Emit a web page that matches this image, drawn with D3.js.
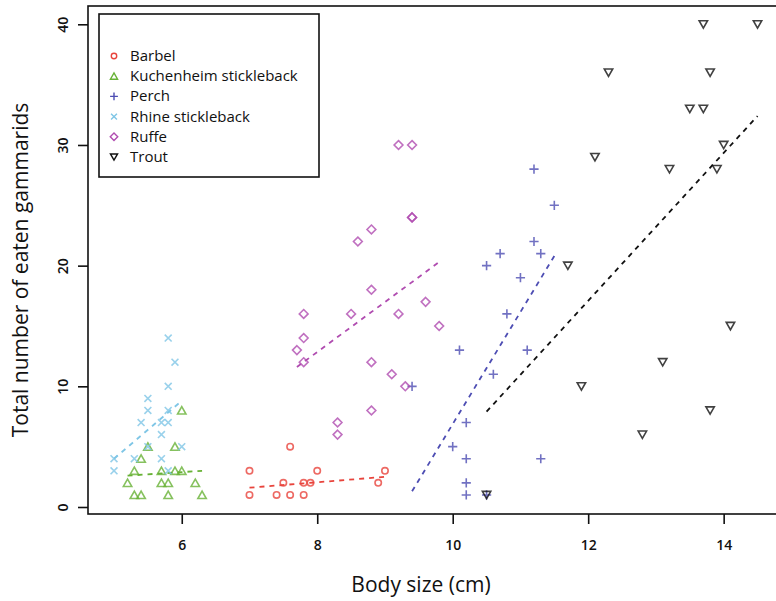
<!DOCTYPE html>
<html>
<head>
<meta charset="utf-8">
<script src="https://cdn.jsdelivr.net/npm/d3@7"></script>
<style>
  body { margin: 0; background: #fff; }
  text { font-family: "Open Sans", "Noto Sans", sans-serif; }
</style>
</head>
<body>
<div id="chart"></div>
<script>
// [body size (cm), eaten gammarids]
const barbel = [[7, 3], [7, 1], [7.4, 1], [7.5, 2], [7.6, 5], [7.6, 1], [7.8, 2], [7.8, 1],
  [7.9, 2], [8, 3], [8.9, 2], [9, 3]];
const kuchenheim = [[6, 8], [5.5, 5], [5.9, 5], [5.4, 4], [5.3, 3], [5.7, 3], [5.9, 3], [6, 3],
  [5.2, 2], [5.7, 2], [5.8, 2], [6.2, 2], [5.3, 1], [5.4, 1], [5.8, 1], [6.3, 1]];
const perch = [[11.2, 28], [11.5, 25], [11.2, 22], [10.7, 21], [11.3, 21], [10.5, 20], [11, 19],
  [10.8, 16], [10.1, 13], [11.1, 13], [10.6, 11], [9.4, 10], [10.2, 7], [10, 5], [10.2, 4],
  [11.3, 4], [10.2, 2], [10.2, 1], [10.5, 1]];
const rhine = [[5.8, 14], [5.9, 12], [5.8, 10], [5.5, 9], [5.5, 8], [5.8, 8], [5.4, 7], [5.7, 7],
  [5.8, 7], [5.7, 6], [6, 5], [5.5, 5], [5, 4], [5.3, 4], [5.7, 4], [5, 3], [5.8, 3]];
const ruffe = [[9.2, 30], [9.4, 30], [9.4, 24], [9.4, 24], [8.8, 23], [8.6, 22], [8.8, 18], [9.6, 17],
  [7.8, 16], [8.5, 16], [9.2, 16], [9.8, 15], [7.8, 14], [7.7, 13], [7.8, 12], [8.8, 12],
  [9.1, 11], [9.3, 10], [8.8, 8], [8.3, 7], [8.3, 6]];
const trout = [[13.7, 40], [14.5, 40], [12.3, 36], [13.8, 36], [13.5, 33], [13.7, 33], [14, 30],
  [12.1, 29], [13.2, 28], [13.9, 28], [11.7, 20], [14.1, 15], [13.1, 12], [11.9, 10], [13.8, 8],
  [12.8, 6], [10.5, 1]];

// fitted lines, start and end points
const barbelFit = [[7, 1.6], [9, 2.5]];
const kuchenheimFit = [[5.2, 2.6], [6.3, 3.0]];
const perchFit = [[9.4, 1.3], [11.5, 20.8]];
const rhineFit = [[5.0, 4.0], [6.0, 8.8]];
const ruffeFit = [[7.7, 11.6], [9.8, 20.3]];
const troutFit = [[10.5, 7.9], [14.5, 32.4]];

const xTicks = [6, 8, 10, 12, 14];
const yTicks = [0, 10, 20, 30, 40];

const width = 776, height = 601;
const box = { left: 88, right: 783, top: 6, bottom: 514 };

const svg = d3.select("#chart").append("svg")
  .attr("width", width).attr("height", height);

const x = d3.scaleLinear().domain([4.616, 14.876]).range([box.left, box.right]);
const y = d3.scaleLinear().domain([0, 40]).range([507, 24.3]);

// plot frame
svg.append("rect")
  .attr("x", box.left).attr("y", box.top)
  .attr("width", box.right - box.left).attr("height", box.bottom - box.top)
  .attr("fill", "none").attr("stroke", "#111").attr("stroke-width", 1.6);

// axes
const xAxis = svg.append("g")
  .attr("transform", `translate(0,${box.bottom})`)
  .call(d3.axisBottom(x).tickValues(xTicks).tickSize(10).tickPadding(16).tickFormat(d3.format("d")));
const yAxis = svg.append("g")
  .attr("transform", `translate(${box.left},0)`)
  .call(d3.axisLeft(y).tickValues(yTicks).tickSize(10).tickPadding(14).tickFormat(d3.format("d")));
[xAxis, yAxis].forEach((g) => {
  g.select(".domain").remove();
  g.selectAll(".tick line").attr("stroke", "#111").attr("stroke-width", 1.6);
  g.selectAll(".tick text").attr("fill", "#111")
    .style("font-size", "14px").style("font-weight", "600");
});
yAxis.selectAll(".tick text")
  .attr("transform", function () {
    const tx = +d3.select(this).attr("x");
    return `rotate(-90) translate(0,${tx + 4})`;
  })
  .attr("x", 0).attr("dy", 0).attr("text-anchor", "middle");

// axis titles
svg.append("text")
  .attr("x", 421).attr("y", 592)
  .attr("text-anchor", "middle")
  .style("font-size", "21px").attr("fill", "#111")
  .text("Body size (cm)");
svg.append("text")
  .attr("transform", "translate(28,270) rotate(-90)")
  .attr("text-anchor", "middle")
  .style("font-size", "21px").attr("fill", "#111")
  .text("Total number of eaten gammarids");

// marker shapes
const shapes = {
  circle: (s) => `M${s},0A${s},${s} 0 1,1 ${-s},0A${s},${s} 0 1,1 ${s},0Z`,
  triangle: (s) => `M${-s},${s * 0.85}L${s},${s * 0.85}L0,${-s * 0.9}Z`,
  triangleDown: (s) => `M${-s},${-s * 0.85}L${s},${-s * 0.85}L0,${s * 0.9}Z`,
  plus: (s) => `M${-s},0H${s}M0,${-s}V${s}`,
  cross: (s) => `M${-s * 0.75},${-s * 0.75}L${s * 0.75},${s * 0.75}M${-s * 0.75},${s * 0.75}L${s * 0.75},${-s * 0.75}`,
  diamond: (s) => `M0,${-s}L${s},0L0,${s}L${-s},0Z`
};

const species = [
  { name: "Barbel", data: barbel, fit: barbelFit, color: "#e8443c", shape: "circle", size: 3.2 },
  { name: "Kuchenheim stickleback", data: kuchenheim, fit: kuchenheimFit, color: "#68b236", shape: "triangle", size: 4.2 },
  { name: "Perch", data: perch, fit: perchFit, color: "#4d4db3", shape: "plus", size: 4.6 },
  { name: "Rhine stickleback", data: rhine, fit: rhineFit, color: "#7fc6e6", shape: "cross", size: 4.6 },
  { name: "Ruffe", data: ruffe, fit: ruffeFit, color: "#b04cb0", shape: "diamond", size: 4.4 },
  { name: "Trout", data: trout, fit: troutFit, color: "#111111", shape: "triangleDown", size: 4.2 }
];

const line = d3.line().x((d) => x(d[0])).y((d) => y(d[1]));

species.forEach((sp) => {
  svg.append("path")
    .datum(sp.fit)
    .attr("d", line)
    .attr("fill", "none")
    .attr("stroke", sp.color)
    .attr("stroke-width", 1.8)
    .attr("stroke-dasharray", "5,5");
});

species.forEach((sp) => {
  svg.append("g").selectAll("path")
    .data(sp.data)
    .join("path")
    .attr("transform", (d) => `translate(${x(d[0])},${y(d[1])})`)
    .attr("d", shapes[sp.shape](sp.size))
    .attr("fill", "none")
    .attr("stroke", sp.color)
    .attr("stroke-width", 1.6)
    .attr("stroke-opacity", 0.8);
});

// legend
const legend = svg.append("g");
legend.append("rect")
  .attr("x", 99).attr("y", 14).attr("width", 220).attr("height", 163)
  .attr("fill", "#fff").attr("stroke", "#111").attr("stroke-width", 1.6);
const items = legend.selectAll("g.item")
  .data(species)
  .join("g")
  .attr("class", "item")
  .attr("transform", (d, i) => `translate(114,${56 + i * 20.2})`);
items.append("path")
  .attr("d", (d) => shapes[d.shape](d.size * 0.85))
  .attr("fill", "none")
  .attr("stroke", (d) => d.color)
  .attr("stroke-width", 1.4);
items.append("text")
  .attr("x", 16).attr("y", 5)
  .style("font-size", "15px").attr("fill", "#111")
  .text((d) => d.name);
</script>
</body>
</html>
